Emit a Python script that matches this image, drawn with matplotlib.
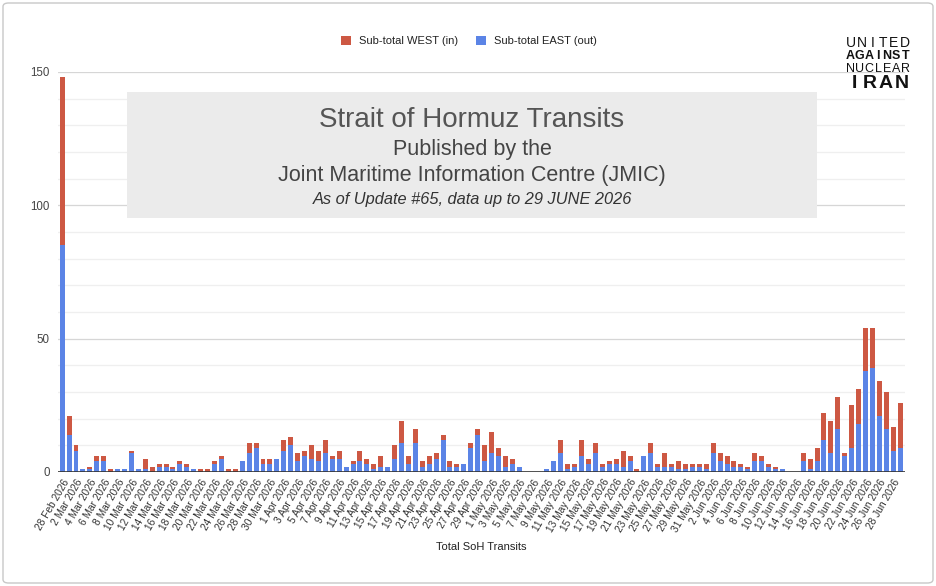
import matplotlib
matplotlib.use("Agg")
import matplotlib.pyplot as plt
from matplotlib.patches import Rectangle, FancyBboxPatch
import numpy as np
import pandas as pd

plt.rcParams['font.family'] = ['Liberation Sans', 'DejaVu Sans']

# 日期: 28 Feb 2026 - 29 Jun 2026
dates = pd.date_range('2026-02-28', '2026-06-29')
tick_labels = [f"{d.day} {d.strftime('%b')} {d.year}" for d in dates]

east = [85, 14, 8, 1, 1, 4, 4, 0, 1, 1, 7, 1, 1, 0, 2, 2, 1, 3, 2, 1,
        0, 0, 3, 5, 0, 0, 4, 7, 9, 3, 3, 5, 8, 10, 4, 6, 5, 4, 7, 5,
        5, 2, 3, 4, 3, 1, 2, 2, 5, 11, 3, 11, 2, 3, 5, 12, 2, 2, 3, 9,
        14, 4, 7, 6, 2, 3, 2, 0, 0, 0, 1, 4, 7, 1, 2, 6, 3, 7, 2, 3,
        3, 2, 4, 0, 6, 7, 2, 2, 2, 1, 1, 2, 2, 1, 7, 4, 3, 2, 2, 1,
        4, 4, 2, 1, 1, 0, 0, 4, 1, 4, 12, 7, 16, 6, 9, 18, 38, 39, 21, 16,
        8, 9]
west = [63, 7, 2, 0, 1, 2, 2, 1, 0, 0, 1, 0, 4, 2, 1, 1, 1, 1, 1, 0,
        1, 1, 1, 1, 1, 1, 0, 4, 2, 2, 2, 0, 4, 3, 3, 2, 5, 4, 5, 1,
        3, 0, 1, 4, 2, 2, 4, 0, 5, 8, 3, 5, 2, 3, 2, 2, 2, 1, 0, 2,
        2, 6, 8, 3, 4, 2, 0, 0, 0, 0, 0, 0, 5, 2, 1, 6, 2, 4, 1, 1,
        2, 6, 2, 1, 0, 4, 1, 5, 1, 3, 2, 1, 1, 2, 4, 3, 3, 2, 1, 1,
        3, 2, 1, 1, 0, 0, 0, 3, 4, 5, 10, 12, 12, 1, 16, 13, 16, 15, 13, 14,
        9, 17]

red = '#cd5843'
blue = '#5b84e6'

fig = plt.figure(figsize=(9.36, 5.86), dpi=100)
ax = fig.add_axes([58 / 936, 1 - 472 / 586, 847 / 936, 400 / 586])

x = np.arange(len(dates))
ax.bar(x, east, width=0.72, color=blue, zorder=3, label='Sub-total EAST (out)')
ax.bar(x, west, bottom=east, width=0.72, color=red, zorder=3, label='Sub-total WEST (in)')

ax.set_xlim(-0.6, 121.7)
ax.set_ylim(0, 150)
ax.set_yticks([0, 50, 100, 150])
ax.set_yticks(np.arange(0, 151, 10), minor=True)
ax.grid(axis='y', which='major', color='#d6d6d6', lw=0.9, zorder=0)
ax.grid(axis='y', which='minor', color='#efefef', lw=0.9, zorder=0)
ax.axhline(0, color='#333333', lw=1.2, zorder=4)
for s in ax.spines.values():
    s.set_visible(False)
ax.tick_params(axis='y', which='both', length=0, labelsize=8.3, labelcolor='#444444', pad=6)
ax.set_xticks(x[::2])
ax.set_xticklabels(tick_labels[::2], rotation=60, ha='right', rotation_mode='anchor',
                   fontsize=7.3, color='#333333')
ax.tick_params(axis='x', length=0, pad=4)

# 标题框
ax.add_patch(Rectangle((127 / 936, 1 - 218 / 586), 690 / 936, 126 / 586,
                       transform=fig.transFigure, facecolor='#ebebeb', edgecolor='none',
                       zorder=2.5))
cx = 472 / 936
fig.text(cx, 1 - 120 / 586, 'Strait of Hormuz Transits', ha='center', va='center',
         fontsize=20, color='#555555')
fig.text(cx, 1 - 150 / 586, 'Published by the', ha='center', va='center',
         fontsize=15.5, color='#444444')
fig.text(cx, 1 - 176 / 586, 'Joint Maritime Information Centre (JMIC)', ha='center',
         va='center', fontsize=15.5, color='#444444')
fig.text(cx, 1 - 199 / 586, 'As of Update #65, data up to 29 JUNE 2026', ha='center',
         va='center', fontsize=11.8, style='italic', color='#333333')

fig.text(481 / 936, 1 - 547 / 586, 'Total SoH Transits', ha='center', va='center',
         fontsize=8, color='#222222')

# 图例
handles, labels = ax.get_legend_handles_labels()
fig.legend(handles[::-1], labels[::-1], loc='center', bbox_to_anchor=(469 / 936, 1 - 41 / 586),
           ncol=2, frameon=False, fontsize=8, handlelength=0.9, handleheight=0.9,
           columnspacing=1.6, handletextpad=0.7, labelcolor='#222222')

# logo
def spread(word, y, size, weight):
    x0, x1 = 846, 910
    step = (x1 - x0) / len(word)
    for i, ch in enumerate(word):
        fig.text((x0 + (i + 0.5) * step) / 936, 1 - y / 586, ch, ha='center', va='center',
                 fontsize=size, fontweight=weight, color='#111111')

spread('UNITED', 43, 10, 'normal')
spread('AGAINST', 56, 9, 'bold')
spread('NUCLEAR', 69, 9, 'normal')
spread('IRAN', 83, 14, 'bold')

fig.patches.append(FancyBboxPatch((3 / 936, 3 / 586), 930 / 936, 580 / 586,
                                  boxstyle='round,pad=0,rounding_size=0.006',
                                  transform=fig.transFigure, facecolor='none',
                                  edgecolor='#c8c8c8', lw=1))

fig.savefig('out.png', dpi=100)
